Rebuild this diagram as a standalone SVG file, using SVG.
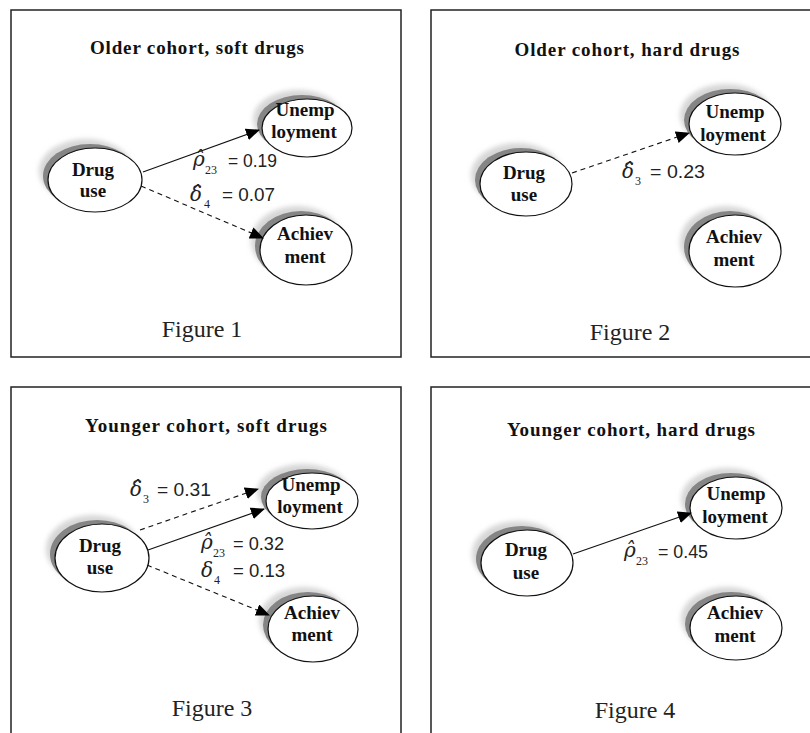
<svg xmlns="http://www.w3.org/2000/svg" width="810" height="733" viewBox="0 0 810 733">
<style>
.panel{fill:#fff;stroke:#222;stroke-width:1.5}
.halo{fill:#d6d6d6}
.shade{fill:#858585}
.node{fill:#fff;stroke:#111;stroke-width:1.2}
.nt{font-family:"Liberation Serif","Times New Roman",serif;font-weight:bold;font-size:19px;fill:#111;text-anchor:middle}
.title{font-family:"Liberation Serif","Times New Roman",serif;font-weight:bold;font-size:19px;fill:#111;text-anchor:middle}
.fig{font-family:"Liberation Serif","Times New Roman",serif;font-size:24px;fill:#222;text-anchor:middle}
.gr{font-family:"DejaVu Serif","Liberation Serif",serif;font-style:italic;font-size:20px;fill:#222}
.sub{font-family:"Liberation Serif","DejaVu Serif",serif;font-size:12px;fill:#222}
.num{font-family:"Liberation Sans",Arial,sans-serif;font-size:19px;fill:#222}
.solid{stroke:#111;stroke-width:1.1;fill:none;marker-end:url(#ah)}
.dash{stroke:#111;stroke-width:1.1;fill:none;stroke-dasharray:5 4;marker-end:url(#ah)}
</style>
<defs>
<marker id="ah" markerUnits="userSpaceOnUse" markerWidth="14" markerHeight="12" viewBox="0 0 14 12" refX="13" refY="6" orient="auto">
<path d="M0,0 L14,6 L0,12 Z" fill="#000"/>
</marker>
<filter id="blur" x="-30%" y="-30%" width="160%" height="160%"><feGaussianBlur stdDeviation="2.5"/></filter>
</defs>
<rect width="810" height="733" fill="#fff"/>

<!-- Panel 1 -->
<g id="panel1">
<rect class="panel" x="11" y="10" width="390" height="347"/>
<text class="title" x="197" y="54" textLength="214" lengthAdjust="spacing">Older cohort, soft drugs</text>
<text class="fig" x="202" y="337">Figure 1</text>
</g>
<g id="p1-drug">
<ellipse class="halo" cx="86" cy="171" rx="47" ry="32" filter="url(#blur)"/>
<ellipse class="shade" cx="90" cy="176" rx="47" ry="32"/>
<ellipse class="node" cx="95" cy="180" rx="47" ry="32"/>
<text class="nt" x="93" y="176">Drug</text><text class="nt" x="93" y="197">use</text>
</g>
<g id="p1-unemp">
<ellipse class="halo" cx="298" cy="119" rx="45" ry="29" filter="url(#blur)"/>
<ellipse class="shade" cx="302" cy="124" rx="45" ry="29"/>
<ellipse class="node" cx="307" cy="128" rx="45" ry="29"/>
<text class="nt" x="305" y="116">Unemp</text><text class="nt" x="304" y="138">loyment</text>
</g>
<g id="p1-achiev">
<ellipse class="halo" cx="297" cy="241" rx="46" ry="35" filter="url(#blur)"/>
<ellipse class="shade" cx="301" cy="246" rx="46" ry="35"/>
<ellipse class="node" cx="306" cy="250" rx="46" ry="35"/>
<text class="nt" x="305" y="240">Achiev</text><text class="nt" x="305" y="263">ment</text>
</g>

<!-- Panel 2 -->
<g id="panel2">
<rect class="panel" x="431" y="10" width="400" height="347"/>
<text class="title" x="627" y="56" textLength="225" lengthAdjust="spacing">Older cohort, hard drugs</text>
<text class="fig" x="630" y="340">Figure 2</text>
</g>
<g id="p2-drug">
<ellipse class="halo" cx="517" cy="175" rx="46" ry="32" filter="url(#blur)"/>
<ellipse class="shade" cx="521" cy="180" rx="46" ry="32"/>
<ellipse class="node" cx="526" cy="184" rx="46" ry="32"/>
<text class="nt" x="524" y="179">Drug</text><text class="nt" x="524" y="201">use</text>
</g>
<g id="p2-unemp">
<ellipse class="halo" cx="726" cy="115" rx="46" ry="31" filter="url(#blur)"/>
<ellipse class="shade" cx="730" cy="120" rx="46" ry="31"/>
<ellipse class="node" cx="735" cy="124" rx="46" ry="31"/>
<text class="nt" x="735" y="118">Unemp</text><text class="nt" x="733" y="141">loyment</text>
</g>
<g id="p2-achiev">
<ellipse class="halo" cx="726" cy="242" rx="46" ry="36" filter="url(#blur)"/>
<ellipse class="shade" cx="730" cy="247" rx="46" ry="36"/>
<ellipse class="node" cx="735" cy="251" rx="46" ry="36"/>
<text class="nt" x="734" y="243">Achiev</text><text class="nt" x="734" y="266">ment</text>
</g>

<!-- Panel 3 -->
<g id="panel3">
<rect class="panel" x="11" y="387" width="390" height="360"/>
<text class="title" x="206" y="432" textLength="242" lengthAdjust="spacing">Younger cohort, soft drugs</text>
<text class="fig" x="212" y="716">Figure 3</text>
</g>
<g id="p3-drug">
<ellipse class="halo" cx="93" cy="549" rx="47" ry="34" filter="url(#blur)"/>
<ellipse class="shade" cx="97" cy="554" rx="47" ry="34"/>
<ellipse class="node" cx="102" cy="558" rx="47" ry="34"/>
<text class="nt" x="100" y="552">Drug</text><text class="nt" x="100" y="574">use</text>
</g>
<g id="p3-unemp">
<ellipse class="halo" cx="303" cy="492" rx="46" ry="28" filter="url(#blur)"/>
<ellipse class="shade" cx="307" cy="497" rx="46" ry="28"/>
<ellipse class="node" cx="312" cy="501" rx="46" ry="28"/>
<text class="nt" x="311" y="491">Unemp</text><text class="nt" x="310" y="513">loyment</text>
</g>
<g id="p3-achiev">
<ellipse class="halo" cx="304" cy="620" rx="45" ry="33" filter="url(#blur)"/>
<ellipse class="shade" cx="308" cy="625" rx="45" ry="33"/>
<ellipse class="node" cx="313" cy="629" rx="45" ry="33"/>
<text class="nt" x="312" y="619">Achiev</text><text class="nt" x="312" y="641">ment</text>
</g>

<!-- Panel 4 -->
<g id="panel4">
<rect class="panel" x="431" y="387" width="400" height="360"/>
<text class="title" x="631" y="436" textLength="248" lengthAdjust="spacing">Younger cohort, hard drugs</text>
<text class="fig" x="635" y="718">Figure 4</text>
</g>
<g id="p4-drug">
<ellipse class="halo" cx="518" cy="554" rx="46" ry="33" filter="url(#blur)"/>
<ellipse class="shade" cx="522" cy="559" rx="46" ry="33"/>
<ellipse class="node" cx="527" cy="563" rx="46" ry="33"/>
<text class="nt" x="526" y="556">Drug</text><text class="nt" x="526" y="579">use</text>
</g>
<g id="p4-unemp">
<ellipse class="halo" cx="727" cy="499" rx="46" ry="31" filter="url(#blur)"/>
<ellipse class="shade" cx="731" cy="504" rx="46" ry="31"/>
<ellipse class="node" cx="736" cy="508" rx="46" ry="31"/>
<text class="nt" x="736" y="500">Unemp</text><text class="nt" x="735" y="523">loyment</text>
</g>
<g id="p4-achiev">
<ellipse class="halo" cx="727" cy="619" rx="46" ry="32" filter="url(#blur)"/>
<ellipse class="shade" cx="731" cy="624" rx="46" ry="32"/>
<ellipse class="node" cx="736" cy="628" rx="46" ry="32"/>
<text class="nt" x="735" y="619">Achiev</text><text class="nt" x="735" y="642">ment</text>
</g>

<!-- Connectors -->
<g id="connectors">
<line class="solid" x1="143" y1="172" x2="259" y2="130"/>
<line class="dash" x1="141" y1="186" x2="263" y2="238"/>
<line class="dash" x1="572" y1="173" x2="689" y2="133"/>
<line class="dash" x1="140" y1="530" x2="258" y2="489"/>
<line class="solid" x1="148" y1="550" x2="264" y2="509"/>
<line class="dash" x1="147" y1="565" x2="269" y2="615"/>
<line class="solid" x1="573" y1="554" x2="691" y2="513"/>
</g>

<!-- Edge labels -->
<g id="labels">
<text class="gr" x="193" y="166">ρ&#x302;</text><text class="sub" x="205" y="174">23</text><text class="num" x="228" y="167" textLength="49" lengthAdjust="spacingAndGlyphs">= 0.19</text>
<text class="gr" x="190" y="201">δ&#x302;</text><text class="sub" x="204" y="208">4</text><text class="num" x="222" y="201" textLength="53" lengthAdjust="spacingAndGlyphs">= 0.07</text>

<text class="gr" x="622" y="178">δ&#x302;</text><text class="sub" x="635" y="185">3</text><text class="num" x="650" y="178" textLength="55" lengthAdjust="spacingAndGlyphs">= 0.23</text>

<text class="gr" x="130" y="496">δ&#x302;</text><text class="sub" x="143" y="503">3</text><text class="num" x="157" y="496" textLength="54" lengthAdjust="spacingAndGlyphs">= 0.31</text>
<text class="gr" x="201" y="549">ρ&#x302;</text><text class="sub" x="213" y="557">23</text><text class="num" x="233" y="550" textLength="51" lengthAdjust="spacingAndGlyphs">= 0.32</text>
<text class="gr" x="201" y="577">δ</text><text class="sub" x="214" y="584">4</text><text class="num" x="233" y="577" textLength="52" lengthAdjust="spacingAndGlyphs">= 0.13</text>

<text class="gr" x="624" y="557">ρ&#x302;</text><text class="sub" x="636" y="565">23</text><text class="num" x="658" y="558" textLength="50" lengthAdjust="spacingAndGlyphs">= 0.45</text>
</g>
</svg>
